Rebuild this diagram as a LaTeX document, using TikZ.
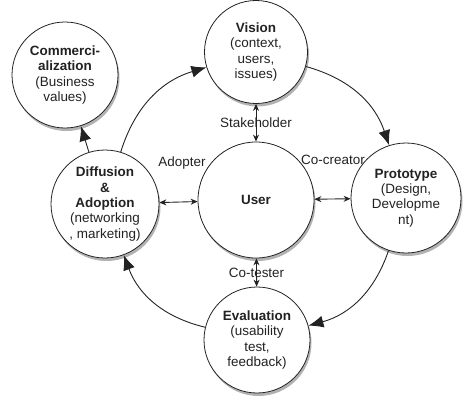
\documentclass[tikz,border=0pt]{standalone}
\usepackage{fontspec}
\setmainfont{Liberation Sans}
\usepackage{tikz}
\usetikzlibrary{arrows.meta,shadows}
\definecolor{ink}{HTML}{222222}
\definecolor{shade}{HTML}{555555}
\tikzset{stage/.style={circle,draw=ink,fill=white,line width=.8pt,align=center,inner sep=0pt,text=ink,
  drop shadow={shadow xshift=1.5bp,shadow yshift=-3bp,opacity=.45,fill=shade}},
flow/.style={-{Latex[length=15bp,width=12bp]},draw=ink,line width=.9pt},
link/.style={{Stealth[length=7bp,width=6bp]}-{Stealth[length=7bp,width=6bp]},draw=ink,line width=.9pt},
role/.style={text=ink}}

\begin{document}
\begin{tikzpicture}[x=1bp,y=1bp,font=\fontsize{13.5}{15.5}\selectfont]
\useasboundingbox (0,0) rectangle (474,407);
\node[stage,minimum size=106bp] (com) at (65,332) {\textbf{Commerci-}\\\textbf{alization}\\(Business\\values)};
\node[stage,minimum size=103bp] (vis) at (256,355) {\textbf{Vision}\\(context,\\users,\\issues)};
\node[stage,minimum size=116bp] (usr) at (256,207) {\textbf{User}};
\node[stage,minimum size=110bp] (pro) at (406,209) {\textbf{Prototype}\\(Design,\\Developme\\nt)};
\node[stage,minimum size=106bp] (eva) at (257,67) {\textbf{Evaluation}\\(usability\\test,\\feedback)};
\node[stage,minimum size=108bp] (dif) at (105,203) {\textbf{Diffusion}\\\textbf{\&}\\\textbf{Adoption}\\(networking\\, marketing)};
\draw[flow] (dif) to[bend left=28] (vis);
\draw[flow] (vis) to[bend left=28] (pro);
\draw[flow] (pro) to[bend left=28] (eva);
\draw[flow] (eva) to[bend left=28] (dif);
\draw[flow] (dif) -- (com);
\draw[link] (vis) -- node[role]{Stakeholder} (usr);
\draw[link] (usr) -- node[role]{Co-tester} (eva);
\draw[link] (dif) -- (usr);
\draw[link] (usr) -- (pro);
\node[role] (adp) at (182,244) {Adopter};
\node[role] (ccr) at (333,247) {Co-creator};
\end{tikzpicture}
\end{document}
